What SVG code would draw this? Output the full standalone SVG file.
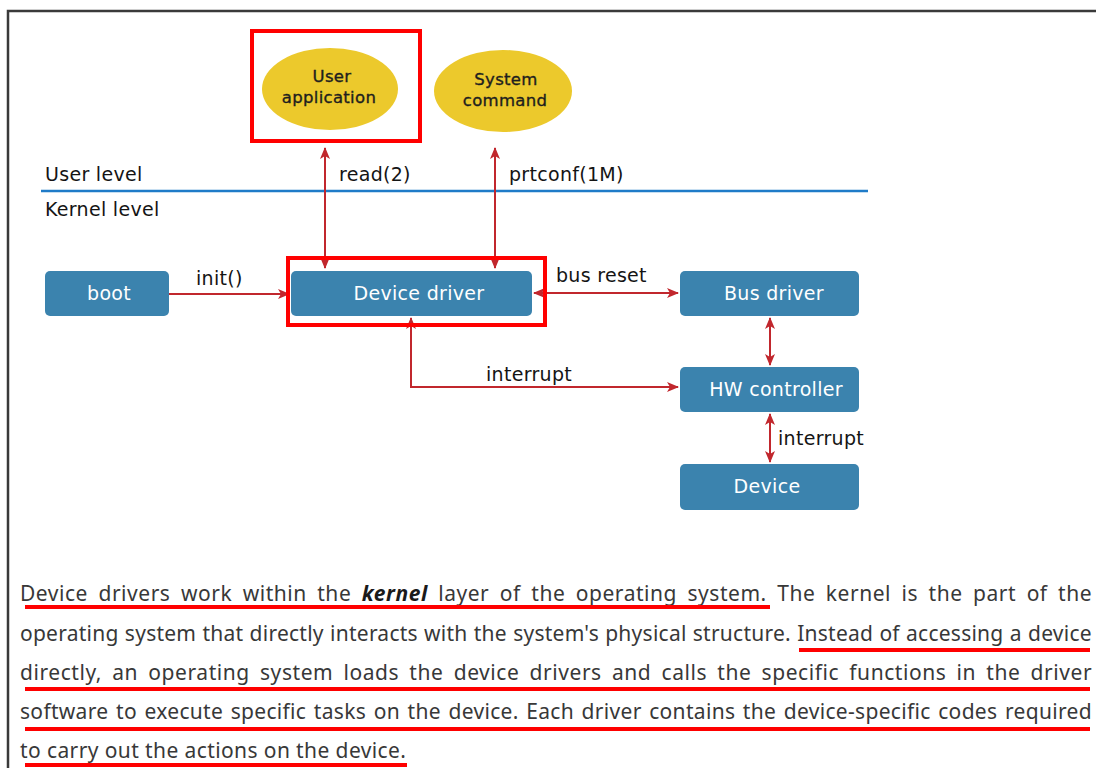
<svg xmlns="http://www.w3.org/2000/svg" width="1096" height="768" viewBox="0 0 1096 768">
<defs>
<marker id="ah" viewBox="0 0 12 10" refX="11" refY="5" markerWidth="12" markerHeight="10" markerUnits="userSpaceOnUse" orient="auto-start-reverse">
<path d="M0,0 L12,5 L0,10 L3,5 Z" fill="#c1272d"/>
</marker>
<style>
.box{fill:#3b83ae;}
.bt{font-family:"DejaVu Sans",sans-serif;font-size:19px;letter-spacing:0.3px;fill:#ffffff;text-anchor:middle;}
.el{fill:#ecc92c;}
.et{font-family:"DejaVu Sans",sans-serif;font-size:16.5px;letter-spacing:0.3px;fill:#1e1e1e;stroke:#1e1e1e;stroke-width:0.35px;text-anchor:middle;}
.lb{font-family:"DejaVu Sans",sans-serif;font-size:19px;letter-spacing:0.3px;fill:#141414;}
.cn{fill:none;stroke:#c1272d;stroke-width:2;}
.hl{fill:none;stroke:#ff0000;stroke-width:4;}
.ul{stroke:#ff0000;stroke-width:4;stroke-linecap:butt;}
.pt{font-family:"Noto Sans","Open Sans",sans-serif;font-size:21px;letter-spacing:0.4px;fill:#383838;}
</style>
</defs>
<rect x="0" y="0" width="1096" height="768" fill="#ffffff"/>
<path d="M8,780 L8,11 L1100,11" fill="none" stroke="#3a3a3a" stroke-width="2.5"/>

<g id="user-application">
<ellipse class="el" cx="330" cy="89" rx="68" ry="41"/>
<text class="et" x="332" y="82">User</text>
<text class="et" x="329" y="103">application</text>
</g>
<g id="system-command">
<ellipse class="el" cx="503" cy="91" rx="69" ry="41"/>
<text class="et" x="506" y="85">System</text>
<text class="et" x="505" y="106">command</text>
</g>

<g id="levels">
<line x1="41" y1="191" x2="868" y2="191" stroke="#1f7bc8" stroke-width="2.5"/>
<text class="lb" x="45" y="181">User level</text>
<text class="lb" x="45" y="216">Kernel level</text>
</g>

<g id="boot">
<rect class="box" x="45" y="271" width="124" height="45" rx="5"/>
<text class="bt" x="109" y="300">boot</text>
</g>
<g id="device-driver">
<rect class="box" x="291" y="271" width="241" height="45" rx="5"/>
<text class="bt" x="419" y="300">Device driver</text>
</g>
<g id="bus-driver">
<rect class="box" x="680" y="271" width="179" height="45" rx="5"/>
<text class="bt" x="774" y="300">Bus driver</text>
</g>
<g id="hw-controller">
<rect class="box" x="680" y="367" width="179" height="45" rx="5"/>
<text class="bt" x="776" y="396">HW controller</text>
</g>
<g id="device">
<rect class="box" x="680" y="464" width="179" height="46" rx="5"/>
<text class="bt" x="767" y="493">Device</text>
</g>

<g id="connectors">
<line class="cn" x1="325" y1="148" x2="325" y2="268" marker-start="url(#ah)" marker-end="url(#ah)"/>
<line class="cn" x1="495" y1="148" x2="495" y2="268" marker-start="url(#ah)" marker-end="url(#ah)"/>
<line class="cn" x1="169" y1="294" x2="289" y2="294" marker-end="url(#ah)"/>
<line class="cn" x1="534" y1="293" x2="678" y2="293" marker-start="url(#ah)" marker-end="url(#ah)"/>
<line class="cn" x1="770" y1="318" x2="770" y2="365" marker-start="url(#ah)" marker-end="url(#ah)"/>
<line class="cn" x1="770" y1="414" x2="770" y2="462" marker-start="url(#ah)" marker-end="url(#ah)"/>
<polyline class="cn" points="411,318 411,387 678,387" marker-start="url(#ah)" marker-end="url(#ah)"/>
<text class="lb" x="339" y="181">read(2)</text>
<text class="lb" x="509" y="181">prtconf(1M)</text>
<text class="lb" x="196" y="285">init()</text>
<text class="lb" x="556" y="282">bus reset</text>
<text class="lb" x="486" y="381">interrupt</text>
<text class="lb" x="778" y="445">interrupt</text>
</g>

<g id="highlights">
<rect class="hl" x="252" y="31" width="168" height="110"/>
<rect class="hl" x="288" y="258" width="257" height="67"/>
</g>

<g id="paragraph">
<text class="pt" x="20" y="601" word-spacing="4.5" textLength="1072" lengthAdjust="spacing">Device drivers work within the <tspan font-weight="bold" font-style="italic" fill="#1a1a1a">kernel</tspan> layer of the operating system. The kernel is the part of the</text>
<text class="pt" x="20" y="641" word-spacing="0.5" textLength="1072" lengthAdjust="spacing">operating system that directly interacts with the system's physical structure. Instead of accessing a device</text>
<text class="pt" x="20" y="680" word-spacing="4.2" textLength="1072" lengthAdjust="spacing">directly, an operating system loads the device drivers and calls the specific functions in the driver</text>
<text class="pt" x="20" y="719" word-spacing="1.8" textLength="1072" lengthAdjust="spacing">software to execute specific tasks on the device. Each driver contains the device-specific codes required</text>
<text class="pt" x="20" y="758">to carry out the actions on the device.</text>
<line class="ul" x1="25" y1="607" x2="770" y2="607"/>
<line class="ul" x1="799" y1="650" x2="1090" y2="650"/>
<line class="ul" x1="25" y1="689" x2="1090" y2="689"/>
<line class="ul" x1="25" y1="729" x2="1090" y2="729"/>
<line class="ul" x1="25" y1="765" x2="407" y2="765"/>
</g>
</svg>
